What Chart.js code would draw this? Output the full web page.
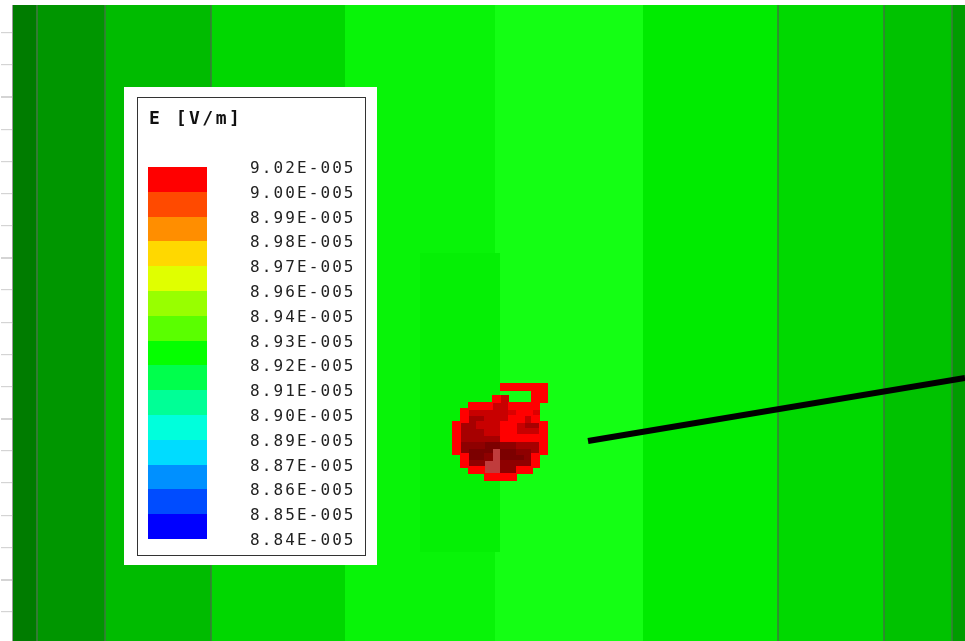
<!DOCTYPE html>
<html>
<head>
<meta charset="utf-8">
<script src="https://cdn.jsdelivr.net/npm/chart.js@4.4.1/dist/chart.umd.min.js"></script>
<style>
  html, body { margin: 0; padding: 0; background: #fff; }
  canvas { display: block; }
</style>
</head>
<body>
<canvas id="fieldPlot" width="965" height="641"></canvas>
<script>
// field bands, left to right (plot units)
var bandEdges = [13, 37, 105, 211, 345, 495, 643, 778, 884, 952, 965];
var bandColors = ['#007c00', '#009600', '#00bb00', '#00d700', '#08f408',
                  '#14ff14', '#00eb00', '#00d900', '#00c200', '#009c00'];
// slightly darker patch inside the bright band
var patchX = [420, 500];
var patchY = [253, 552];
// mesh lines
var meshLinesX = [37, 105, 211, 778, 884, 952];
// y axis ticks on the left edge
var yTicks = [33, 65, 97, 130, 162, 194, 226, 258, 290, 323, 355, 387, 419, 451, 483, 516, 548, 580, 612];
// black probe line
var probeX = [588, 965];
var probeY = [441, 378];

// legend
var legendTitle = 'E [V/m]';
var legendValues = ['9.02E-005', '9.00E-005', '8.99E-005', '8.98E-005', '8.97E-005', '8.96E-005',
                    '8.94E-005', '8.93E-005', '8.92E-005', '8.91E-005', '8.90E-005', '8.89E-005',
                    '8.87E-005', '8.86E-005', '8.85E-005', '8.84E-005'];
var legendColors = ['#ff0000', '#ff4a00', '#ff8e00', '#ffd800', '#e0ff00', '#98ff00', '#5aff00',
                    '#05ff00', '#00ff4c', '#00ff96', '#00ffdc', '#00dcff', '#0090ff', '#004cff', '#0000ff'];

// red hot spot, one char per mesh cell
var blobRows = [
  '......RRRRRR',
  '..........RR',
  '.....RM...RR',
  '..RRRMMRRRR.',
  '.RMMMMMNRRN.',
  '.RDDMMMRRMR.',
  'RDDMMMRRMDDR',
  'RDDDMMRRMMMR',
  'RDDDDDRRRRRR',
  'REEEKKEEDDDR',
  'REKKKPKKEEDR',
  '.RKKEPKKKER.',
  '.REEPPEEEER.',
  '..RRPPEERR..',
  '....RRRR....'
];
var blobShades = { R: '#ff0000', N: '#dc0000', M: '#c80000', D: '#a60000', E: '#8e0000', K: '#7c0000', P: '#c03c3c' };
var blobLeft = 453, blobTop = 383.3, cellW = 7.9, cellH = 6.45;

var datasets = [];

for (var i = 0; i < bandColors.length; i++) {
  // start each band half a unit early so no seam shows between neighbours
  var x0 = i === 0 ? bandEdges[i] : bandEdges[i] - 0.5;
  datasets.push({
    data: [{x: x0, y: 5}, {x: bandEdges[i + 1], y: 5}],
    backgroundColor: bandColors[i],
    borderWidth: 0,
    pointRadius: 0,
    fill: {value: 641},
    order: 50
  });
}

datasets.push({
  data: [{x: patchX[0], y: patchY[0]}, {x: patchX[1], y: patchY[0]}],
  backgroundColor: '#05f005',
  borderWidth: 0,
  pointRadius: 0,
  fill: {value: patchY[1]},
  order: 45
});

meshLinesX.forEach(function(mx) {
  datasets.push({
    data: [{x: mx, y: 5}, {x: mx, y: 641}],
    borderColor: '#3c7a3c',
    borderWidth: mx === 37 ? 1 : 1.5,
    pointRadius: 0,
    fill: false,
    order: 30
  });
});

datasets.push({
  data: [{x: probeX[0], y: probeY[0]}, {x: probeX[1], y: probeY[1]}],
  borderColor: '#000',
  borderWidth: 6,
  borderCapStyle: 'butt',
  pointRadius: 0,
  fill: false,
  order: 20
});

function cellImage(color) {
  var c = document.createElement('canvas');
  c.width = 9;
  c.height = 8;
  var g = c.getContext('2d');
  g.fillStyle = color;
  g.fillRect(0, 0, 9, 8);
  return c;
}

Object.keys(blobShades).forEach(function(key) {
  var pts = [];
  blobRows.forEach(function(row, r) {
    for (var c = 0; c < row.length; c++) {
      if (row[c] === key) {
        pts.push({x: blobLeft + (c + 0.5) * cellW, y: blobTop + (r + 0.5) * cellH});
      }
    }
  });
  datasets.push({
    data: pts,
    showLine: false,
    pointStyle: cellImage(blobShades[key]),
    pointRadius: 4,
    order: 10
  });
});

var legendPlugin = {
  id: 'fieldLegend',
  afterDraw: function(chart) {
    var ctx = chart.ctx;
    ctx.save();
    ctx.fillStyle = '#fff';
    ctx.fillRect(124, 87, 253, 478);
    ctx.strokeStyle = '#333';
    ctx.lineWidth = 1;
    ctx.strokeRect(137.5, 97.5, 228, 458);

    ctx.fillStyle = '#111';
    ctx.textBaseline = 'alphabetic';
    ctx.font = 'bold 18px "DejaVu Sans Mono"';
    ctx.letterSpacing = '2.5px';
    ctx.fillText(legendTitle, 149, 124);

    var top = 167, step = 24.8;
    for (var i = 0; i < legendColors.length; i++) {
      var y0 = Math.round(top + i * step), y1 = Math.round(top + (i + 1) * step);
      ctx.fillStyle = legendColors[i];
      ctx.fillRect(148, y0, 59, y1 - y0);
    }
    ctx.font = '16px "DejaVu Sans Mono"';
    ctx.letterSpacing = '2.1px';
    ctx.fillStyle = '#222';
    for (var j = 0; j < legendValues.length; j++) {
      ctx.fillText(legendValues[j], 250, top + j * step + 6);
    }
    ctx.restore();
  }
};

new Chart('fieldPlot', {
  type: 'line',
  data: { datasets: datasets },
  options: {
    responsive: false,
    animation: false,
    events: [],
    layout: { autoPadding: false, padding: { top: 5, left: 0, right: 0, bottom: 0 } },
    elements: { line: { tension: 0 } },
    plugins: {
      legend: { display: false },
      tooltip: { enabled: false }
    },
    scales: {
      x: { type: 'linear', min: 12, max: 965, display: false },
      y: {
        type: 'linear',
        reverse: true,
        min: 5,
        max: 641,
        position: 'left',
        ticks: { display: false },
        grid: {
          drawOnChartArea: false,
          drawTicks: true,
          tickLength: 11,
          color: '#d4d4d4',
          lineWidth: function(c) { return c.index % 5 === 2 ? 2 : 1.2; }
        },
        border: { display: true, color: '#9a9a9a', width: 1 },
        afterBuildTicks: function(s) { s.ticks = yTicks.map(function(v) { return {value: v}; }); },
        afterFit: function(s) { s.width = 12; }
      }
    }
  },
  plugins: [legendPlugin]
});
</script>
</body>
</html>
